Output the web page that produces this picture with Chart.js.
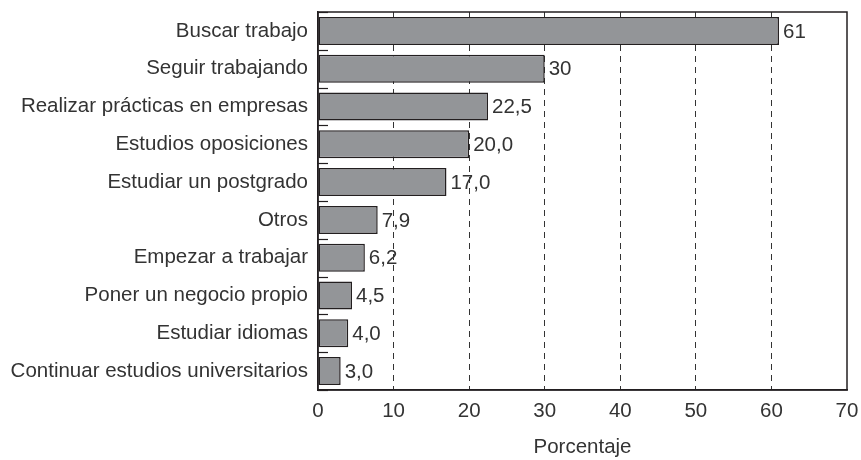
<!DOCTYPE html>
<html>
<head>
<meta charset="utf-8">
<script src="https://cdn.jsdelivr.net/npm/chart.js@4"></script>
<style>
  html, body { margin: 0; padding: 0; background: #fff; }
  #wrap { width: 861px; height: 460px; }
</style>
</head>
<body>
<div id="wrap"><canvas id="chart" width="861" height="460"></canvas></div>
<script>
const categories = [
    'Buscar trabajo',
    'Seguir trabajando',
    'Realizar prácticas en empresas',
    'Estudios oposiciones',
    'Estudiar un postgrado',
    'Otros',
    'Empezar a trabajar',
    'Poner un negocio propio',
    'Estudiar idiomas',
    'Continuar estudios universitarios'
];
const values = [61, 30, 22.5, 20.0, 17.0, 7.9, 6.2, 4.5, 4.0, 3.0];
const valueLabels = ['61', '30', '22,5', '20,0', '17,0', '7,9', '6,2', '4,5', '4,0', '3,0'];
const xTicks = [0, 10, 20, 30, 40, 50, 60, 70];
const axisTitle = 'Porcentaje';

const textColor = '#333333';
const lineColor = '#231f20';
const font = { family: '"Liberation Sans", Arial, sans-serif', size: 20.5 };

// value labels at the end of each bar
const barLabels = {
    id: 'barLabels',
    afterDatasetsDraw(chart) {
        const ctx = chart.ctx;
        const meta = chart.getDatasetMeta(0);
        ctx.save();
        ctx.font = font.size + 'px ' + font.family;
        ctx.fillStyle = textColor;
        ctx.textAlign = 'left';
        ctx.textBaseline = 'middle';
        meta.data.forEach((bar, i) => {
            ctx.fillText(valueLabels[i], bar.x + 4, bar.y + 1);
        });
        ctx.restore();
    }
};

// box around the plot and the short ticks between categories
const frame = {
    id: 'frame',
    afterDraw(chart) {
        const ctx = chart.ctx;
        const a = chart.chartArea;
        const y = chart.scales.y;
        ctx.save();
        ctx.strokeStyle = lineColor;
        ctx.lineWidth = 1.5;
        ctx.strokeRect(a.left, a.top, a.right - a.left, a.bottom - a.top);
        const step = y.getPixelForValue(1) - y.getPixelForValue(0);
        ctx.lineWidth = 1.2;
        for (let i = 0; i <= categories.length; i++) {
            const yy = Math.round(y.getPixelForValue(i) - step / 2) + 0.5;
            ctx.beginPath();
            ctx.moveTo(a.left, yy);
            ctx.lineTo(a.left + 10, yy);
            ctx.stroke();
        }
        ctx.restore();
    }
};

new Chart(document.getElementById('chart'), {
    type: 'bar',
    data: {
        labels: categories,
        datasets: [{
            data: values,
            backgroundColor: '#939598',
            borderColor: lineColor,
            borderWidth: 1.5,
            borderSkipped: false,
            barPercentage: 0.74,
            categoryPercentage: 1
        }]
    },
    options: {
        indexAxis: 'y',
        responsive: false,
        animation: false,
        layout: { padding: { top: 12, right: 14, left: 0, bottom: 0 } },
        plugins: { legend: { display: false }, tooltip: { enabled: false } },
        scales: {
            x: {
                min: 0,
                max: 70,
                afterBuildTicks(scale) {
                    scale.ticks = xTicks.map(v => ({ value: v }));
                },
                afterFit(scale) {
                    scale.height = 70;
                    scale.paddingLeft = 0;
                    scale.paddingRight = 0;
                },
                grid: {
                    color: ctx => (ctx.tick && (ctx.tick.value === 0 || ctx.tick.value === 70)) ? 'rgba(0,0,0,0)' : '#333333',
                    lineWidth: 1,
                    drawTicks: false
                },
                border: { color: lineColor, width: 1.5, dash: [6, 5] },
                ticks: { color: textColor, font: font, padding: 9 },
                title: {
                    display: true,
                    text: axisTitle,
                    color: textColor,
                    font: font,
                    padding: { top: 10, bottom: 0 }
                }
            },
            y: {
                afterFit(scale) {
                    scale.width = 318;
                    scale.paddingTop = 0;
                    scale.paddingBottom = 0;
                },
                grid: { drawOnChartArea: false, drawTicks: false },
                border: { color: lineColor, width: 1.5 },
                ticks: { color: textColor, font: font, padding: 10 }
            }
        }
    },
    plugins: [barLabels, frame]
});
</script>
</body>
</html>
